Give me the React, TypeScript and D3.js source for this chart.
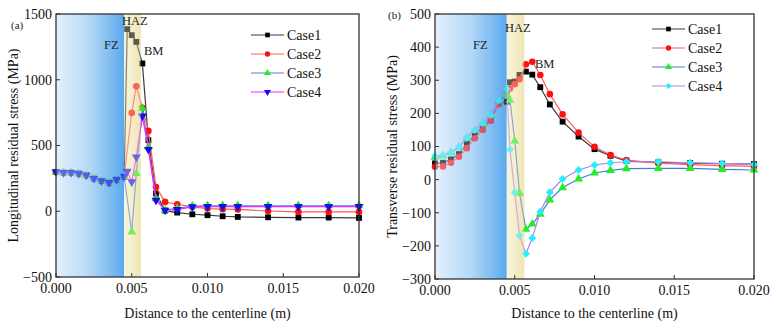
import * as d3 from "d3";

// distance to the weld centerline (m), shared by both panels
const distance = [
    0, 0.0005, 0.001, 0.0015, 0.002, 0.0025, 0.003, 0.0035, 0.004, 0.0045,
    0.0047, 0.005, 0.0053, 0.0057, 0.0061, 0.0066, 0.0072, 0.008, 0.009,
    0.010, 0.011, 0.012, 0.014, 0.016, 0.018, 0.020
];

// (a) longitudinal residual stress, MPa (null = no sample at that distance)
const longCase1 = [299, 294, 294, 287, 274, 249, 231, 218, 241, 262, 1385, 1339, 1288, 1124, 540, 135, 5, -10, -23, -30, -38, -43, -46, -48, -48, -51];
const longCase2 = [297, 293, 292, 285, 272, 248, 230, 217, 240, 264, null, 748, 951, 786, 611, 185, 71, 53, 33, 20, 16, 14, 2, -5, -5, -5];
const longCase3 = [298, 294, 294, 286, 274, 249, 231, 219, 241, 266, null, -157, 287, 781, 489, 97, 8, 22, 40, 42, 42, 42, 42, 42, 42, 42];
const longCase4 = [299, 294, 294, 287, 274, 249, 231, 218, 241, 266, 304, 223, 413, 723, 470, 84, 8, 13, 33, 35, 35, 35, 35, 35, 35, 35];

// (b) transverse residual stress, MPa
const transCase1 = [49, 51, 61, 77, 107, 135, 160, 182, 230, 235, 294, 296, 316, 326, 317, 279, 227, 175, 130, 92, 72, 56, 52, 50, 48, 47];
const transCase2 = [39, 40, 51, 69, 95, 125, 150, 178, 228, 262, 275, 288, 303, 348, 356, 316, 258, 197, 142, 99, 74, 59, 50, 45, 42, 40];
const transCase3 = [68, 72, 82, 98, 126, 149, 169, 194, 238, 257, 240, 117, -41, -150, -134, -104, -61, -24, 2, 20, 28, 33, 34, 34, 31, 29];
const transCase4 = [71, 74, 83, 99, 127, 150, 170, 195, 240, 273, 91, -39, -169, -224, -176, -97, -38, 2, 29, 44, 51, 54, 54, 51, 49, 46];

const caseNames = ["Case1", "Case2", "Case3", "Case4"];
const xTicks = [0, 0.005, 0.010, 0.015, 0.020];
const longTicks = [-500, 0, 500, 1000, 1500];
const transTicks = [-300, -200, -100, 0, 100, 200, 300, 400, 500];

// zone boundaries (m)
const fzEnd = 0.0045;
const hazEnd = 0.0056;

const FONT = '"Liberation Serif", "Times New Roman", serif';

type Style = { line: string, fill: string, symbol: d3.SymbolType, size: number };

const longStyles: Style[] = [
    { line: "#3a3a3a", fill: "#000000", symbol: d3.symbolSquare, size: 34 },
    { line: "#ff5a5a", fill: "#ff1010", symbol: d3.symbolCircle, size: 34 },
    { line: "#4a86d8", fill: "#22ee22", symbol: d3.symbolTriangle, size: 34 },
    { line: "#ff22ff", fill: "#1010ee", symbol: d3.symbolTriangle, size: 34 },
];
const transStyles: Style[] = [
    { line: "#3a3a3a", fill: "#000000", symbol: d3.symbolSquare, size: 34 },
    { line: "#ff5a5a", fill: "#ff1010", symbol: d3.symbolCircle, size: 34 },
    { line: "#3f7fd8", fill: "#22ee22", symbol: d3.symbolTriangle, size: 34 },
    { line: "#b482ea", fill: "#22f0ff", symbol: d3.symbolDiamond2, size: 40 },
];

interface PanelProps {
    id: string,
    left: number, right: number, top: number, bottom: number,
    yDomain: [number, number],
    yTicks: number[],
    series: (number | null)[][],
    styles: Style[],
    invertLast: boolean,
    yTitle: string,
    tag: string, tagPos: [number, number],
    fzPos: [number, number], hazPos: [number, number], bmPos: [number, number],
    legendPos: [number, number],
}

function Panel(p: PanelProps) {
    const x = d3.scaleLinear().domain([0, 0.02]).range([p.left, p.right]);
    const y = d3.scaleLinear().domain(p.yDomain).range([p.bottom, p.top]);
    const h = p.bottom - p.top;

    const line = d3.line<[number, number]>().x(d => x(d[0])).y(d => y(d[1]));

    const points = p.series.map(vals =>
        distance.map((d, i) => [d, vals[i]] as [number, number | null])
            .filter(d => d[1] !== null) as [number, number][]
    );

    const zones = (op: number) => (
        <g opacity={op}>
            <rect x={x(0)} y={p.top} width={x(fzEnd) - x(0)} height={h} fill={`url(#${p.id}-fz)`} />
            <rect x={x(fzEnd)} y={p.top} width={x(hazEnd) - x(fzEnd)} height={h} fill={`url(#${p.id}-haz)`} />
        </g>
    );

    const marker = (s: Style, i: number, cx: number, cy: number, key: string | number) => (
        <path key={key} d={d3.symbol().type(s.symbol).size(s.size)() || ""}
              transform={`translate(${cx},${cy})${i === 3 && p.invertLast ? " rotate(180)" : ""}`}
              fill={s.fill} />
    );

    return (
        <g>
            <defs>
                <linearGradient id={`${p.id}-fz`} x1="0" x2="1" y1="0" y2="0">
                    <stop offset="0" stopColor="#e4f1fd" />
                    <stop offset="0.5" stopColor="#b4d8f7" />
                    <stop offset="1" stopColor="#5aa9ef" />
                </linearGradient>
                <linearGradient id={`${p.id}-haz`} x1="0" x2="1" y1="0" y2="0">
                    <stop offset="0" stopColor="#f9f5de" />
                    <stop offset="1" stopColor="#efe6b4" />
                </linearGradient>
            </defs>

            {zones(1)}

            {points.map((pts, k) => (
                <g key={k}>
                    <path d={line(pts) || ""} fill="none" stroke={p.styles[k].line} strokeWidth={1.2} />
                    {pts.map((d, j) => marker(p.styles[k], k, x(d[0]), y(d[1]), j))}
                </g>
            ))}

            {/* translucent wash so marks inside the zones take their tint */}
            {zones(0.38)}

            {/* frame */}
            <rect x={p.left} y={p.top} width={p.right - p.left} height={h} fill="none" stroke="#333" strokeWidth={1.3} />

            {p.yTicks.map(t => (
                <g key={t}>
                    <line x1={p.left} x2={p.left + 4} y1={y(t)} y2={y(t)} stroke="#333" strokeWidth={1} />
                    <text x={p.left - 4} y={y(t)} dy="0.35em" textAnchor="end" fontSize={14} fontFamily={FONT} fill="#111">
                        {t < 0 ? `\u2212${-t}` : t}
                    </text>
                </g>
            ))}
            {xTicks.map(t => (
                <g key={t}>
                    <line x1={x(t)} x2={x(t)} y1={p.bottom} y2={p.bottom - 4} stroke="#333" strokeWidth={1} />
                    <text x={x(t)} y={p.bottom + 16} textAnchor="middle" fontSize={14} fontFamily={FONT} fill="#111">
                        {d3.format(".3f")(t)}
                    </text>
                </g>
            ))}

            <text x={(p.left + p.right) / 2} y={318} textAnchor="middle" fontSize={14} fontFamily={FONT} fill="#111">
                Distance to the centerline (m)
            </text>
            <text transform={`translate(${p.left - 38},${(p.top + p.bottom) / 2}) rotate(-90)`} textAnchor="middle"
                  fontSize={14} fontFamily={FONT} fill="#111">
                {p.yTitle}
            </text>

            <text x={p.tagPos[0]} y={p.tagPos[1]} fontSize={11} fontFamily={FONT} fill="#222">{p.tag}</text>
            <text x={p.fzPos[0]} y={p.fzPos[1]} fontSize={12.5} fontFamily={FONT} fill="#222">FZ</text>
            <text x={p.hazPos[0]} y={p.hazPos[1]} fontSize={12.5} fontFamily={FONT} fill="#222">HAZ</text>
            <text x={p.bmPos[0]} y={p.bmPos[1]} fontSize={12.5} fontFamily={FONT} fill="#222">BM</text>

            {caseNames.map((name, k) => {
                const [lx, ly] = p.legendPos;
                const cy = ly + k * 19;
                const s = { ...p.styles[k], size: 22 };
                return (
                    <g key={name}>
                        <line x1={lx} x2={lx + 33} y1={cy} y2={cy} stroke={p.styles[k].line} strokeWidth={1.2} />
                        {marker(s, k, lx + 16.5, cy, "m")}
                        <text x={lx + 36} y={cy} dy="0.35em" fontSize={14} fontFamily={FONT} fill="#111">{name}</text>
                    </g>
                );
            })}
        </g>
    );
}

export default function App() {
    return (
        <svg width={776} height={328} style={{ position: "absolute", left: 0, top: 0, background: "#fff" }}>
            <Panel id="pa" left={56} right={359} top={14} bottom={277}
                   yDomain={[-500, 1500]} yTicks={longTicks}
                   series={[longCase1, longCase2, longCase3, longCase4]} styles={longStyles} invertLast={true}
                   yTitle="Longitudinal residual stress (MPa)"
                   tag="(a)" tagPos={[11, 29]}
                   fzPos={[104, 49]} hazPos={[122, 25]} bmPos={[144, 55]}
                   legendPos={[251, 35]} />
            <Panel id="pb" left={435} right={754} top={14} bottom={279}
                   yDomain={[-300, 500]} yTicks={transTicks}
                   series={[transCase1, transCase2, transCase3, transCase4]} styles={transStyles} invertLast={false}
                   yTitle="Transverse residual stress (MPa)"
                   tag="(b)" tagPos={[388, 19]}
                   fzPos={[473, 49]} hazPos={[505, 32]} bmPos={[535, 68]}
                   legendPos={[652, 29]} />
        </svg>
    );
}
